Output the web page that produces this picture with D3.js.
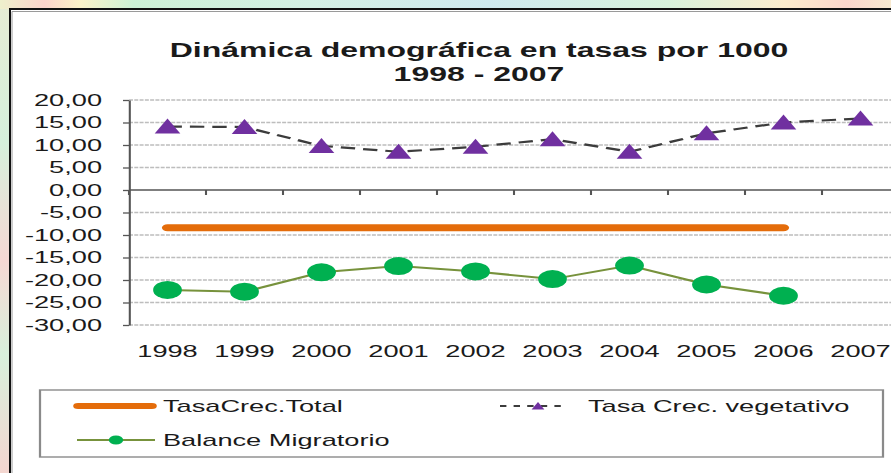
<!DOCTYPE html>
<html>
<head>
<meta charset="utf-8">
<script src="https://cdn.jsdelivr.net/npm/d3@7"></script>
<style>
  body { margin: 0; background: #fff; }
  svg text { font-family: "Liberation Sans", Arial, sans-serif; fill: #1a1a1a; }
</style>
</head>
<body>
<svg id="chart" width="891" height="473"></svg>
<script>
// data
const years = ["1998", "1999", "2000", "2001", "2002", "2003", "2004", "2005", "2006", "2007"];
const tasaTotal = [-8.4, -8.4, -8.4, -8.4, -8.4, -8.4, -8.4, -8.4, -8.4, null];
const vegetativo = [14.1, 14.0, 9.8, 8.5, 9.6, 11.3, 8.5, 12.6, 15.0, 15.9];
const migratorio = [-22.2, -22.6, -18.3, -16.9, -18.1, -19.8, -16.8, -21.0, -23.5, null];
const yTicks = [-30, -25, -20, -15, -10, -5, 0, 5, 10, 15, 20];
const titleLines = ["Dinámica demográfica en tasas por 1000", "1998 - 2007"];

// the picture is stretched sideways, so draw everything in a squeezed frame
const SX = 1.6;

const svg = d3.select("#chart");
const defs = svg.append("defs");

let topGrad = defs.append("linearGradient").attr("id", "topband");
[["0%", "#eef0cc"], ["5%", "#fcd4cc"], ["9%", "#fbf3c8"], ["15%", "#cdf1d6"], ["35%", "#d4f0e4"],
 ["55%", "#cfe9ef"], ["75%", "#d8f2dc"], ["88%", "#fbeccc"], ["95%", "#fbd6cc"], ["100%", "#f7e9cf"]]
  .forEach(s => topGrad.append("stop").attr("offset", s[0]).attr("stop-color", s[1]));

let leftGrad = defs.append("linearGradient").attr("id", "leftband")
  .attr("x1", 0).attr("y1", 0).attr("x2", 0).attr("y2", 1);
[["0%", "#e6ecd4"], ["30%", "#d6f0dc"], ["55%", "#f6d8d4"], ["75%", "#d8f0dc"], ["100%", "#f4d6d0"]]
  .forEach(s => leftGrad.append("stop").attr("offset", s[0]).attr("stop-color", s[1]));

svg.append("rect").attr("width", 891).attr("height", 473).attr("fill", "url(#leftband)");
svg.append("rect").attr("width", 891).attr("height", 9).attr("fill", "url(#topband)");

// white chart panel with its dark frame
svg.append("rect")
  .attr("x", 10).attr("y", 9).attr("width", 900).attr("height", 480)
  .attr("fill", "#fff").attr("stroke", "#111").attr("stroke-width", 2);
svg.append("path")
  .attr("d", "M12,490 V11.5 H900")
  .attr("fill", "none").attr("stroke", "#9a9a9a").attr("stroke-width", 1);

const g = svg.append("g").attr("transform", `scale(${SX},1)`);

const x = d3.scaleBand().domain(years).range([129 / SX, (129 + 770) / SX]);
const y = d3.scaleLinear().domain([-30, 20]).range([325, 100]);
const cx = i => x(years[i]) + x.bandwidth() / 2;

// title
g.append("text")
  .attr("text-anchor", "middle")
  .attr("x", 479 / SX)
  .attr("font-size", 20).attr("font-weight", "bold")
  .selectAll("tspan").data(titleLines).join("tspan")
  .attr("x", 479 / SX)
  .attr("y", (d, i) => 57 + i * 24)
  .text(d => d);

// gridlines
g.append("g")
  .selectAll("line").data(yTicks.filter(d => d !== 0)).join("line")
  .attr("x1", x.range()[0]).attr("x2", x.range()[1])
  .attr("y1", d => y(d)).attr("y2", d => y(d))
  .attr("stroke", "#bdbdbd").attr("stroke-width", 1.4)
  .attr("stroke-dasharray", "2.5,0.8");

// y axis
const yAxis = g.append("g")
  .attr("transform", `translate(${x.range()[0]},0)`)
  .call(d3.axisLeft(y)
    .tickValues(yTicks)
    .tickSize(6 / SX)
    .tickSizeOuter(0)
    .tickPadding(21 / SX)
    .tickFormat(d => d.toFixed(2).replace(".", ",")));
yAxis.select(".domain").attr("stroke", "#555").attr("stroke-width", 1.3);
yAxis.selectAll(".tick line").attr("stroke", "#555").attr("stroke-width", 1.3);
yAxis.selectAll(".tick text")
  .attr("font-size", 17).attr("fill", "#1a1a1a")
  .attr("font-family", "Liberation Sans, Arial, sans-serif");

// zero line with category boundary ticks
g.append("line")
  .attr("x1", x.range()[0]).attr("x2", x.range()[1])
  .attr("y1", y(0)).attr("y2", y(0))
  .attr("stroke", "#555").attr("stroke-width", 1.4);
g.append("g")
  .selectAll("line").data(years).join("line")
  .attr("x1", d => x(d)).attr("x2", d => x(d))
  .attr("y1", y(0)).attr("y2", y(0) + 5)
  .attr("stroke", "#555").attr("stroke-width", 1.3);

// x labels
const xAxis = g.append("g")
  .attr("transform", "translate(0,345)")
  .call(d3.axisBottom(x).tickSize(0).tickPadding(0));
xAxis.select(".domain").remove();
xAxis.selectAll(".tick text")
  .attr("font-size", 17).attr("fill", "#1a1a1a")
  .attr("font-family", "Liberation Sans, Arial, sans-serif");

const line = d3.line()
  .defined(d => d != null)
  .x((d, i) => cx(i))
  .y(d => y(d));

const tri = "M0,-8L8,7L-8,7Z";

// TasaCrec.Total
g.append("path")
  .attr("d", line(tasaTotal))
  .attr("fill", "none").attr("stroke", "#e46c0a")
  .attr("stroke-width", 7).attr("stroke-linecap", "round");

// Tasa Crec. vegetativo
g.append("path")
  .attr("d", line(vegetativo))
  .attr("fill", "none").attr("stroke", "#3c3c3c")
  .attr("stroke-width", 2.2).attr("stroke-dasharray", "9,5");
g.append("g")
  .selectAll("path").data(vegetativo).join("path")
  .attr("d", tri)
  .attr("transform", (d, i) => `translate(${cx(i)},${y(d)})`)
  .attr("fill", "#7030a0");

// Balance Migratorio
g.append("path")
  .attr("d", line(migratorio))
  .attr("fill", "none").attr("stroke", "#77923c").attr("stroke-width", 2);
g.append("g")
  .selectAll("circle").data(migratorio.filter(d => d != null)).join("circle")
  .attr("cx", (d, i) => cx(i)).attr("cy", d => y(d))
  .attr("r", 9).attr("fill", "#00b050");

// legend
const lg = g.append("g");
lg.append("rect")
  .attr("x", 40 / SX).attr("y", 390)
  .attr("width", (883 - 40) / SX).attr("height", 67)
  .attr("fill", "#fff").attr("stroke", "#8a8a8a").attr("stroke-width", 1.4);

lg.append("line")
  .attr("x1", 78 / SX).attr("x2", 152 / SX).attr("y1", 406).attr("y2", 406)
  .attr("stroke", "#e46c0a").attr("stroke-width", 6).attr("stroke-linecap", "round");
lg.append("text").attr("x", 163 / SX).attr("y", 412).attr("font-size", 17).text("TasaCrec.Total");

lg.append("line")
  .attr("x1", 77 / SX).attr("x2", 155 / SX).attr("y1", 440).attr("y2", 440)
  .attr("stroke", "#77923c").attr("stroke-width", 2);
lg.append("circle").attr("cx", 116 / SX).attr("cy", 440).attr("r", 4.5).attr("fill", "#00b050");
lg.append("text").attr("x", 163 / SX).attr("y", 446).attr("font-size", 17).text("Balance  Migratorio");

lg.append("line")
  .attr("x1", 500 / SX).attr("x2", 568 / SX).attr("y1", 406).attr("y2", 406)
  .attr("stroke", "#3c3c3c").attr("stroke-width", 2).attr("stroke-dasharray", "4,4.5");
lg.append("path")
  .attr("d", "M0,-4L4,3.5L-4,3.5Z")
  .attr("transform", `translate(${538 / SX},406)`)
  .attr("fill", "#7030a0");
lg.append("text").attr("x", 588 / SX).attr("y", 412).attr("font-size", 17).text("Tasa Crec. vegetativo");
</script>
</body>
</html>
